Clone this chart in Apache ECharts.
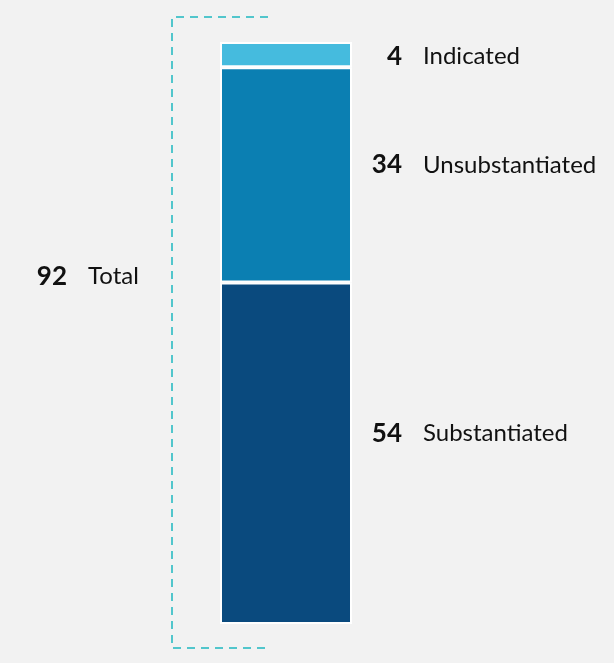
<!DOCTYPE html>
<html>
<head>
<meta charset="utf-8">
<script src="https://cdn.jsdelivr.net/npm/echarts@6/dist/echarts.min.js"></script>
<style>
  html, body { margin: 0; padding: 0; background: #f2f2f2; }
  #chart { width: 614px; height: 663px; }
</style>
</head>
<body>
<div id="chart"></div>
<script>
// data (stack order: bottom to top)
const categories = ["Cases"];
const segmentNames = ["Substantiated", "Unsubstantiated", "Indicated"];
const segmentValues = [54, 34, 4];
const totalValue = 92;
const totalName = "Total";

const segmentColors = ["#0a4a7e", "#0b7fb2", "#45bbde"];
const bracketColor = "#52c6cc";

// vertical shift of each segment's label from the segment middle
const labelShift = [-20, -10, 2];

const chart = echarts.init(document.getElementById("chart"));

const barSeries = segmentNames.map((name, i) => ({
  name: name,
  type: "bar",
  stack: "all",
  barWidth: 132,
  data: [segmentValues[i]],
  itemStyle: { color: segmentColors[i], borderColor: "#ffffff", borderWidth: 2 },
  silent: true
}));

// value + name beside each segment
let base = 0;
const labelRows = segmentValues.map((v, i) => {
  const row = [0, base, base + v, i];
  base += v;
  return row;
});

const labelSeries = {
  type: "custom",
  silent: true,
  data: labelRows,
  renderItem: function (params, api) {
    const i = api.value(3);
    const lo = api.coord([api.value(0), api.value(1)]);
    const hi = api.coord([api.value(0), api.value(2)]);
    const y = (lo[1] + hi[1]) / 2 + labelShift[i];
    const x = lo[0] + 66;
    return {
      type: "group",
      children: [
        {
          type: "text",
          style: {
            x: x + 50, y: y, text: String(segmentValues[i]),
            align: "right", verticalAlign: "middle",
            font: "bold 26px Lato", fill: "#111"
          }
        },
        {
          type: "text",
          style: {
            x: x + 71, y: y, text: segmentNames[i],
            align: "left", verticalAlign: "middle",
            font: "24px Lato", fill: "#111"
          }
        }
      ]
    };
  }
};

// dashed bracket around the whole bar, with the total on its left
const totalSeries = {
  type: "custom",
  silent: true,
  data: [[0, totalValue]],
  renderItem: function (params, api) {
    const top = api.coord([api.value(0), api.value(1)]);
    const bottom = api.coord([api.value(0), 0]);
    const x = top[0] - 114;
    const y1 = top[1] - 25;
    const y2 = bottom[1] + 24;
    const arm = 96;
    const mid = (y1 + y2) / 2 - 56;
    return {
      type: "group",
      children: [
        {
          type: "polyline",
          shape: { points: [[x + arm, y1], [x, y1], [x, y2], [x + arm, y2]] },
          style: { stroke: bracketColor, lineWidth: 2, lineDash: [8, 6], fill: null }
        },
        {
          type: "text",
          style: {
            x: x - 105, y: mid, text: String(api.value(1)),
            align: "right", verticalAlign: "middle",
            font: "bold 26px Lato", fill: "#111"
          }
        },
        {
          type: "text",
          style: {
            x: x - 84, y: mid, text: totalName,
            align: "left", verticalAlign: "middle",
            font: "24px Lato", fill: "#111"
          }
        }
      ]
    };
  }
};

chart.setOption({
  backgroundColor: "#f2f2f2",
  animation: false,
  grid: { left: 220, width: 132, top: 42, height: 582 },
  xAxis: { type: "category", data: categories, show: false },
  yAxis: { type: "value", min: 0, max: totalValue, show: false },
  series: barSeries.concat([labelSeries, totalSeries])
});
</script>
</body>
</html>
